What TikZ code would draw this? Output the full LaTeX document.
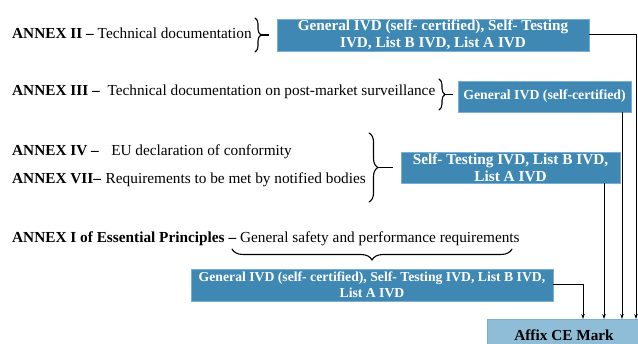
\documentclass[tikz,border=0pt]{standalone}
\usepackage{fontspec}
\setmainfont{Liberation Serif}
\usetikzlibrary{decorations.pathreplacing,arrows.meta,calc}
\definecolor{boxblue}{RGB}{64,136,180}
\definecolor{boxedge}{RGB}{120,175,210}
\definecolor{ceblue}{RGB}{143,188,215}
\begin{document}
\begin{tikzpicture}[x=1pt,y=-1pt,
  bluebox/.style={rectangle,fill=boxblue,draw=boxedge,line width=0.6pt,text=white,
    font=\bfseries\fontsize{15}{16.5}\selectfont,align=center,inner sep=0pt},
  annex/.style={anchor=west,inner sep=0pt,font=\fontsize{15.3}{18}\selectfont},
  bracestyle/.style={decorate,line width=1.1pt,line cap=round},
  arr/.style={line width=1pt,-{Stealth[length=5pt,width=3.5pt]}}]
\useasboundingbox (0,0) rectangle (638,344);

% texts
\node[annex] (t2) at (12,33) {\textbf{ANNEX II –} Technical documentation};
\node[annex] (t3) at (12,92) {\textbf{ANNEX III –}\hspace{0.5em}Technical documentation on post-market surveillance};
\node[annex] (t4) at (12,152) {\textbf{ANNEX IV –}\hspace{0.8em}EU declaration of conformity};
\node[annex] (t7) at (12,180) {\textbf{ANNEX VII–}\hspace{0.3em}Requirements to be met by notified bodies};
\node[annex] (t1) at (12,239) {\textbf{ANNEX I of Essential Principles –} General safety and performance requirements};

% boxes
\node[bluebox,minimum width=312pt,minimum height=32pt,font=\bfseries\fontsize{15.2}{16.5}\selectfont] (b1) at (433,35)
  {General IVD (self- certified), Self- Testing\\IVD, List B IVD, List A IVD};
\node[bluebox,minimum width=173pt,minimum height=31pt,font=\bfseries\fontsize{13.8}{16}\selectfont] (b2) at (544.5,96.5)
  {General IVD (self-certified)};
\node[bluebox,minimum width=219pt,minimum height=31pt,font=\bfseries\fontsize{15.3}{16.5}\selectfont] (b3) at (510.5,167.5)
  {Self- Testing IVD, List B IVD,\\List A IVD};
\node[bluebox,minimum width=362pt,minimum height=32pt,font=\bfseries\fontsize{13.7}{16.5}\selectfont] (b4) at (372,285)
  {General IVD (self- certified), Self- Testing IVD, List B IVD,\\List A IVD};
\node[rectangle,fill=ceblue,draw=boxedge,line width=0.6pt,minimum width=160pt,minimum height=32pt,
  anchor=north west,inner sep=0pt] (ce) at (487,319) {};
\node[inner sep=0pt,font=\bfseries\fontsize{15.3}{18}\selectfont] (cet) at (564,335) {Affix CE Mark};

% braces
\coordinate (br1a) at (255,18); \coordinate (br1b) at (255,52);
\draw[bracestyle,decoration={brace,amplitude=6pt}] (br1a) -- (br1b);
\coordinate (br1t) at (261,35); \coordinate (br1e) at (269,35);
\draw[line width=1.1pt] (br1t) -- (br1e);

\coordinate (br2a) at (439,79); \coordinate (br2b) at (439,110);
\draw[bracestyle,decoration={brace,amplitude=6pt}] (br2a) -- (br2b);
\coordinate (br2t) at (445,94.5); \coordinate (br2e) at (453,94.5);
\draw[line width=1.1pt] (br2t) -- (br2e);

\coordinate (br3a) at (369,133); \coordinate (br3b) at (369,202);
\draw[bracestyle,decoration={brace,amplitude=9pt}] (br3a) -- (br3b);
\coordinate (br3t) at (378,167.5); \coordinate (br3e) at (393,167.5);
\draw[line width=1.1pt] (br3t) -- (br3e);

\coordinate (br4a) at (512,249); \coordinate (br4b) at (232,249);
\draw[bracestyle,decoration={brace,amplitude=11pt}] (br4a) -- (br4b);

% connectors
\coordinate (c1) at (636,35);
\draw[arr] (b1.east) -- (c1) -- (c1 |- ce.north);
\coordinate (c2) at (622,112);
\draw[arr] (c2) -- (c2 |- ce.north);
\coordinate (c3) at (604,183);
\draw[arr] (c3) -- (c3 |- ce.north);
\coordinate (c4) at (583,285);
\draw[arr] (b4.east) -- (c4) -- (c4 |- ce.north);
\end{tikzpicture}
\end{document}
